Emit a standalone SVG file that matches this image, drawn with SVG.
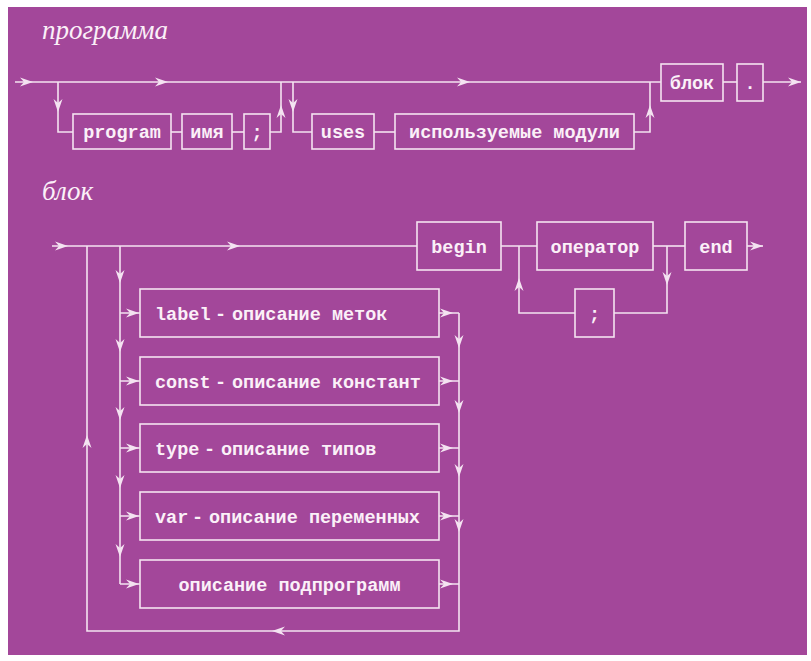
<svg xmlns="http://www.w3.org/2000/svg" xmlns:xlink="http://www.w3.org/1999/xlink" width="811" height="661" viewBox="0 0 811 661">
<style>
.ln{fill:none;stroke:#F4E3F1;stroke-width:1.6}
.bx{fill:none;stroke:#F4E3F1;stroke-width:1.6}
.t{font-family:'Courier New','Liberation Mono',Cousine,'DejaVu Sans Mono','Noto Sans Mono',monospace;font-weight:700;font-size:18.5px;fill:#FBF0F8}
.c{text-anchor:middle}
.ttl{font-family:'Liberation Serif','DejaVu Serif',serif;font-style:italic;font-size:27px;fill:#FBF0F8}
.ah{fill:#F4E3F1}
</style>
<defs>
<path id="ah" d="M0,0 L-13,-4.5 L-9,0 L-13,4.5 Z"/>
</defs>
<rect x="0" y="0" width="811" height="661" fill="#ffffff"/>
<rect x="8" y="7" width="799" height="648" fill="#A3479A"/>
<text class="ttl" x="42" y="39">программа</text>
<text class="ttl" x="42" y="200">блок</text>
<g id="connectors">
<path class="ln" d="M15,82 H661"/>
<path class="ln" d="M58,82 V132 H73"/>
<path class="ln" d="M171,132 H182"/>
<path class="ln" d="M232,132 H244"/>
<path class="ln" d="M270,132 H281 V82"/>
<path class="ln" d="M293,82 V132 H312"/>
<path class="ln" d="M374,132 H395"/>
<path class="ln" d="M634,132 H650 V82"/>
<path class="ln" d="M723,82 H737"/>
<path class="ln" d="M763,82 H801"/>
<path class="ln" d="M52,246 H417"/>
<path class="ln" d="M501,246 H537"/>
<path class="ln" d="M653,246 H685"/>
<path class="ln" d="M747,246 H763"/>
<path class="ln" d="M667,246 V313 H614"/>
<path class="ln" d="M575,313 H519 V246"/>
<path class="ln" d="M87,246 V631 H459 V313"/>
<path class="ln" d="M120,246 V584"/>
<path class="ln" d="M120,313 H140 M120,381 H140 M120,448 H140 M120,516 H140 M120,584 H140"/>
<path class="ln" d="M439,313 H459 M439,381 H459 M439,448 H459 M439,516 H459 M439,584 H459"/>
<g class="ah">
<use xlink:href="#ah" transform="translate(33,82)"/>
<use xlink:href="#ah" transform="translate(168,82)"/>
<use xlink:href="#ah" transform="translate(470,82)"/>
<use xlink:href="#ah" transform="translate(801,82)"/>
<use xlink:href="#ah" transform="translate(58,112) rotate(90)"/>
<use xlink:href="#ah" transform="translate(293,112) rotate(90)"/>
<use xlink:href="#ah" transform="translate(281,105) rotate(-90)"/>
<use xlink:href="#ah" transform="translate(650,105) rotate(-90)"/>
<use xlink:href="#ah" transform="translate(68,246)"/>
<use xlink:href="#ah" transform="translate(240,246)"/>
<use xlink:href="#ah" transform="translate(763,246)"/>
<use xlink:href="#ah" transform="translate(519,278) rotate(-90)"/>
<use xlink:href="#ah" transform="translate(667,285) rotate(90)"/>
<use xlink:href="#ah" transform="translate(120,283) rotate(90)"/>
<use xlink:href="#ah" transform="translate(120,352) rotate(90)"/>
<use xlink:href="#ah" transform="translate(120,420) rotate(90)"/>
<use xlink:href="#ah" transform="translate(120,488) rotate(90)"/>
<use xlink:href="#ah" transform="translate(120,557) rotate(90)"/>
<use xlink:href="#ah" transform="translate(139,313)"/>
<use xlink:href="#ah" transform="translate(139,381)"/>
<use xlink:href="#ah" transform="translate(139,448)"/>
<use xlink:href="#ah" transform="translate(139,516)"/>
<use xlink:href="#ah" transform="translate(139,584)"/>
<use xlink:href="#ah" transform="translate(453,313)"/>
<use xlink:href="#ah" transform="translate(453,381)"/>
<use xlink:href="#ah" transform="translate(453,448)"/>
<use xlink:href="#ah" transform="translate(453,516)"/>
<use xlink:href="#ah" transform="translate(453,584)"/>
<use xlink:href="#ah" transform="translate(459,348) rotate(90)"/>
<use xlink:href="#ah" transform="translate(459,413) rotate(90)"/>
<use xlink:href="#ah" transform="translate(459,477) rotate(90)"/>
<use xlink:href="#ah" transform="translate(459,532) rotate(90)"/>
<use xlink:href="#ah" transform="translate(87,435) rotate(-90)"/>
<use xlink:href="#ah" transform="translate(272,631) rotate(180)"/>
</g>
</g>
<g id="n-program"><rect class="bx" x="73" y="114" width="98" height="35"/><text class="t c" x="122" y="138">program</text></g>
<g id="n-imya"><rect class="bx" x="182" y="114" width="50" height="35"/><text class="t c" x="207" y="138">имя</text></g>
<g id="n-semi1"><rect class="bx" x="244" y="114" width="26" height="35"/><text class="t c" x="257" y="138">;</text></g>
<g id="n-uses"><rect class="bx" x="312" y="114" width="62" height="35"/><text class="t c" x="343" y="138">uses</text></g>
<g id="n-modules"><rect class="bx" x="395" y="114" width="239" height="35"/><text class="t c" x="514.5" y="138">используемые модули</text></g>
<g id="n-blok"><rect class="bx" x="661" y="64" width="62" height="37"/><text class="t c" x="692" y="89">блок</text></g>
<g id="n-dot"><rect class="bx" x="737" y="64" width="26" height="37"/><text class="t c" x="750" y="89">.</text></g>
<g id="n-begin"><rect class="bx" x="417" y="222" width="84" height="48"/><text class="t c" x="459" y="253">begin</text></g>
<g id="n-operator"><rect class="bx" x="537" y="222" width="116" height="48"/><text class="t c" x="595" y="253">оператор</text></g>
<g id="n-end"><rect class="bx" x="685" y="222" width="62" height="48"/><text class="t c" x="716" y="253">end</text></g>
<g id="n-semi2"><rect class="bx" x="575" y="289" width="39" height="48"/><text class="t c" x="594.5" y="320">;</text></g>
<g id="n-label"><rect class="bx" x="140" y="289" width="299" height="48"/><text class="t" y="320"><tspan x="155">label</tspan><tspan x="215">-</tspan><tspan x="232">описание меток</tspan></text></g>
<g id="n-const"><rect class="bx" x="140" y="357" width="299" height="48"/><text class="t" y="388"><tspan x="155">const</tspan><tspan x="215">-</tspan><tspan x="232">описание констант</tspan></text></g>
<g id="n-type"><rect class="bx" x="140" y="424" width="299" height="48"/><text class="t" y="455"><tspan x="155">type</tspan><tspan x="204">-</tspan><tspan x="221">описание типов</tspan></text></g>
<g id="n-var"><rect class="bx" x="140" y="492" width="299" height="48"/><text class="t" y="523"><tspan x="155">var</tspan><tspan x="192">-</tspan><tspan x="209">описание переменных</tspan></text></g>
<g id="n-subprog"><rect class="bx" x="140" y="560" width="299" height="48"/><text class="t c" x="289.5" y="591">описание подпрограмм</text></g>
</svg>
